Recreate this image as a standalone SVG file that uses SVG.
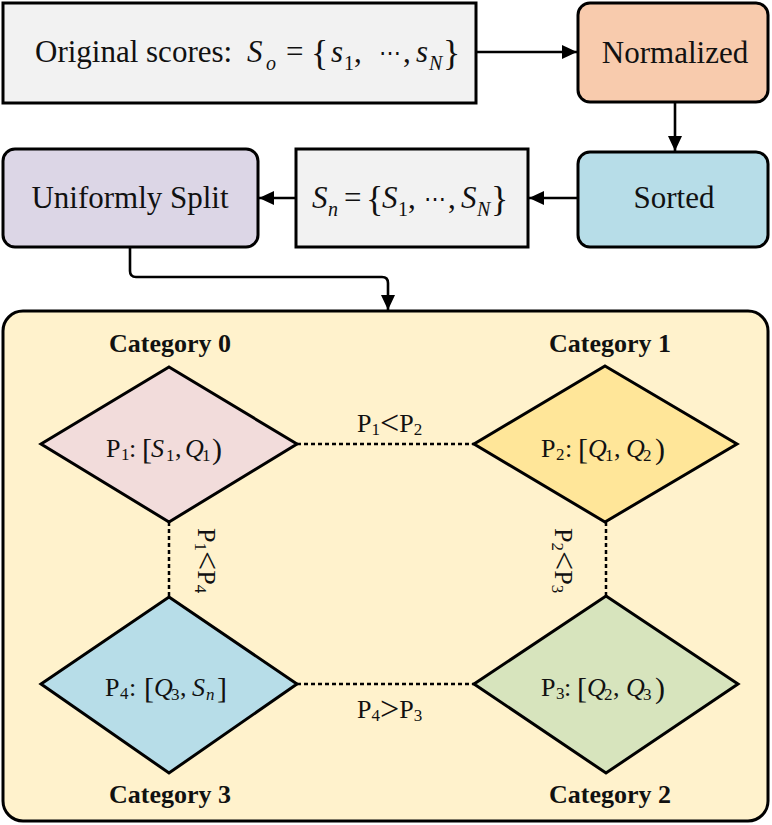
<svg xmlns="http://www.w3.org/2000/svg" width="772" height="825" viewBox="0 0 772 825">
<style>
text{font-family:"Liberation Serif","Times New Roman",serif;fill:#111;}
.t{font-size:31px;}
.it{font-style:italic;}
.sub{font-size:20px;}
.dots{font-size:22px;}
.d{font-size:26px;}
.ds{font-size:17px;}
.br{font-size:30px;}
.cat{font-size:26px;font-weight:bold;}
.box{stroke:#000;stroke-width:3;}
.dia{stroke:#000;stroke-width:3;stroke-linejoin:miter;}
.con{fill:none;stroke:#000;stroke-width:2.6;}
.dot{fill:none;stroke:#000;stroke-width:2.5;stroke-dasharray:4 3;}
</style>
<defs>
<marker id="ah" markerUnits="userSpaceOnUse" markerWidth="16" markerHeight="14" refX="15" refY="7" orient="auto">
<path d="M0,0 L15,7 L0,14 z" fill="#000"/>
</marker>
</defs>

<g id="container">
<rect class="box" x="3" y="311" width="765" height="510" rx="20" fill="#fff2cc"/>
</g>

<g id="original">
<rect class="box" x="3" y="3" width="473" height="100" fill="#f2f2f2"/>
<text class="t" x="35" y="62">Original scores:</text>
<text class="t it" x="247" y="62">S</text>
<text class="sub it" x="266" y="70">o</text>
<text class="t" x="286" y="62">=</text>
<text style="font-size:36px" x="311" y="65">{</text>
<text class="t it" x="331" y="62">s</text>
<text class="sub" x="344" y="70">1</text>
<text class="t" x="354" y="62">,</text>
<text class="dots" x="390" y="60" text-anchor="middle">⋯</text>
<text class="t" x="403" y="62">,</text>
<text class="t it" x="416" y="62">s</text>
<text class="sub it" x="429" y="70">N</text>
<text style="font-size:36px" x="443" y="65">}</text>
</g>

<g id="normalized">
<rect class="box" x="578" y="3" width="190" height="99" rx="12" fill="#f8cbad"/>
<text class="t" x="675" y="63" text-anchor="middle">Normalized</text>
</g>

<g id="sorted">
<rect class="box" x="578" y="152" width="190" height="95" rx="12" fill="#b7dde8"/>
<text class="t" x="674" y="208" text-anchor="middle">Sorted</text>
</g>

<g id="sn">
<rect class="box" x="296" y="149" width="232" height="98" fill="#f2f2f2"/>
<text class="t it" x="312" y="208">S</text>
<text class="sub it" x="328" y="216">n</text>
<text class="t" x="344" y="208">=</text>
<text style="font-size:36px" x="366" y="211">{</text>
<text class="t it" x="382" y="208">S</text>
<text class="sub" x="398" y="216">1</text>
<text class="t" x="408" y="208">,</text>
<text class="dots" x="435" y="206" text-anchor="middle">⋯</text>
<text class="t" x="448" y="208">,</text>
<text class="t it" x="461" y="208">S</text>
<text class="sub it" x="477" y="216">N</text>
<text style="font-size:36px" x="491" y="211">}</text>
</g>

<g id="split">
<rect class="box" x="3" y="149" width="255" height="98" rx="12" fill="#dcd6e6"/>
<text class="t" x="130" y="208" text-anchor="middle">Uniformly Split</text>
</g>

<g id="connectors">
<line class="con" x1="476" y1="52" x2="577" y2="52" marker-end="url(#ah)"/>
<line class="con" x1="675" y1="102" x2="675" y2="151" marker-end="url(#ah)"/>
<line class="con" x1="578" y1="198" x2="529" y2="198" marker-end="url(#ah)"/>
<line class="con" x1="296" y1="198" x2="259" y2="198" marker-end="url(#ah)"/>
<path class="con" d="M130,247 V271 Q130,277 136,277 H382 Q388,277 388,283 V310" marker-end="url(#ah)"/>
<line class="dot" x1="297" y1="444" x2="474" y2="444"/>
<line class="dot" x1="297" y1="684" x2="474" y2="684"/>
<line class="dot" x1="169" y1="522" x2="169" y2="597"/>
<line class="dot" x1="606" y1="522" x2="606" y2="596"/>
</g>

<g id="edge-labels">
<text class="d" x="357" y="432">P<tspan class="ds" dy="3">1</tspan><tspan style="font-size:34px" dy="-1">&lt;</tspan><tspan dy="-2">P</tspan><tspan class="ds" dy="3">2</tspan></text>
<text class="d" x="357" y="718">P<tspan class="ds" dy="3">4</tspan><tspan style="font-size:34px" dy="-1">&gt;</tspan><tspan dy="-2">P</tspan><tspan class="ds" dy="3">3</tspan></text>
<text class="d" transform="translate(198,528) rotate(90)">P<tspan class="ds" dy="3">1</tspan><tspan style="font-size:34px" dy="-1">&lt;</tspan><tspan dy="-2">P</tspan><tspan class="ds" dy="3">4</tspan></text>
<text class="d" transform="translate(555,528) rotate(90)">P<tspan class="ds" dy="3">2</tspan><tspan style="font-size:34px" dy="-1">&lt;</tspan><tspan dy="-2">P</tspan><tspan class="ds" dy="3">3</tspan></text>
</g>

<g id="cat0">
<polygon class="dia" points="169,367 297,444 169,522 41,444" fill="#f2dcdb"/>
<text class="cat" x="170" y="352" text-anchor="middle">Category 0</text>
<text class="d" x="106" y="457">P</text>
<text class="ds" x="121" y="460">1</text>
<text class="d" x="129" y="457">:</text>
<text class="br" x="142" y="459">[</text>
<text class="d it" x="151" y="457">S</text>
<text class="ds" x="166" y="461">1</text>
<text class="d" x="175" y="457">,</text>
<text class="d it" x="185" y="457">Q</text>
<text class="ds" x="202" y="461">1</text>
<text class="br" x="212" y="459">)</text>
</g>

<g id="cat1">
<polygon class="dia" points="605,366 737,444 605,522 474,444" fill="#ffe699"/>
<text class="cat" x="610" y="352" text-anchor="middle">Category 1</text>
<text class="d" x="541" y="457">P</text>
<text class="ds" x="556" y="460">2</text>
<text class="d" x="565" y="457">:</text>
<text class="br" x="578" y="459">[</text>
<text class="d it" x="588" y="457">Q</text>
<text class="ds" x="605" y="461">1</text>
<text class="d" x="614" y="457">,</text>
<text class="d it" x="626" y="457">Q</text>
<text class="ds" x="643" y="461">2</text>
<text class="br" x="655" y="459">)</text>
</g>

<g id="cat2">
<polygon class="dia" points="606,596 738,684 606,773 474,684" fill="#d7e4bd"/>
<text class="cat" x="610" y="803" text-anchor="middle">Category 2</text>
<text class="d" x="541" y="696">P</text>
<text class="ds" x="556" y="699">3</text>
<text class="d" x="564" y="696">:</text>
<text class="br" x="577" y="698">[</text>
<text class="d it" x="587" y="696">Q</text>
<text class="ds" x="604" y="700">2</text>
<text class="d" x="613" y="696">,</text>
<text class="d it" x="626" y="696">Q</text>
<text class="ds" x="643" y="700">3</text>
<text class="br" x="655" y="698">)</text>
</g>

<g id="cat3">
<polygon class="dia" points="169,597 297,684 169,773 41,684" fill="#b7dde8"/>
<text class="cat" x="170" y="803" text-anchor="middle">Category 3</text>
<text class="d" x="105" y="696">P</text>
<text class="ds" x="120" y="699">4</text>
<text class="d" x="129" y="696">:</text>
<text class="br" x="144" y="698">[</text>
<text class="d it" x="154" y="696">Q</text>
<text class="ds" x="171" y="700">3</text>
<text class="d" x="180" y="696">,</text>
<text class="d it" x="192" y="696">S</text>
<text class="ds it" x="206" y="700">n</text>
<text class="br" x="217" y="698">]</text>
</g>
</svg>
